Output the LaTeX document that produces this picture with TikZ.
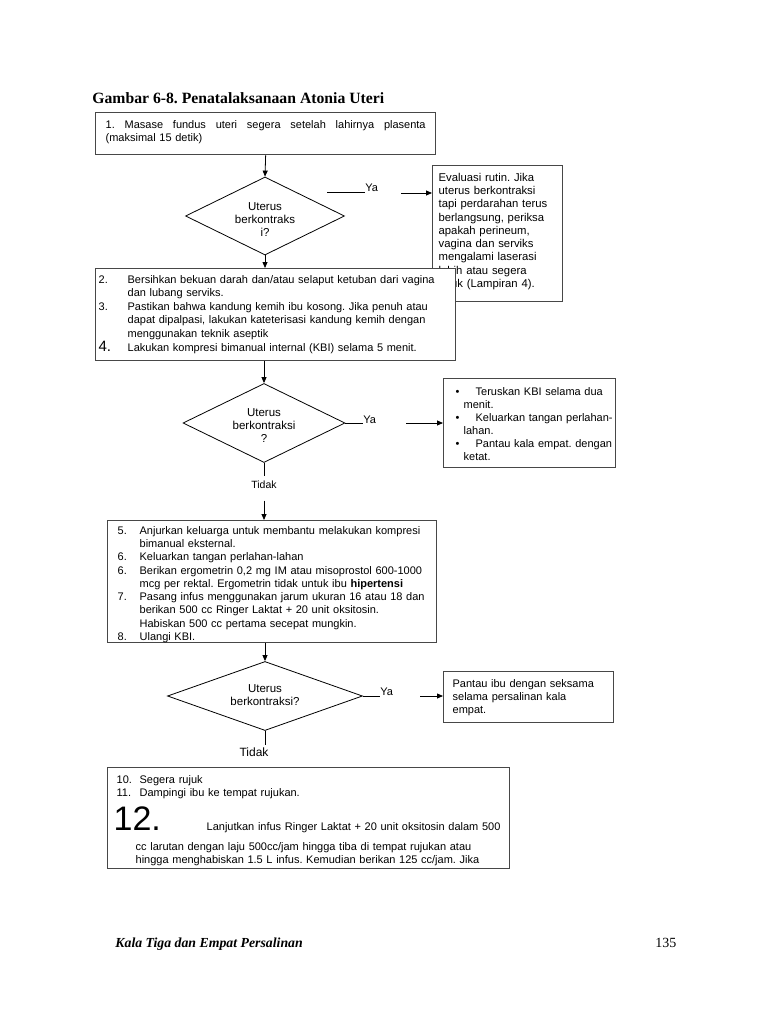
\documentclass[tikz,border=0pt]{standalone}
\usepackage{fontspec}
\setmainfont{Liberation Sans}
\newfontfamily\seriffont{Liberation Serif}
\usetikzlibrary{shapes.geometric}
\usetikzlibrary{arrows.meta}

\newcommand\bodyfont{\fontsize{11}{13.3}\selectfont}
% teks di dalam belah ketupat, digeser ke bawah
\newcommand\isiketupat[2]{\raisebox{-#1}[0pt][0pt]{\begin{tabular}{@{}c@{}}#2\end{tabular}}}
\frenchspacing

\begin{document}
\begin{tikzpicture}[x=1pt, y=-1pt, line width=0.8pt,
    >={Triangle[length=6pt,width=5pt]},
    kotak/.style={draw=black!72, line width=1.3pt, fill=white, anchor=north west,
        inner ysep=0pt, align=left, font=\bodyfont},
    keputusan/.style={draw, diamond, inner sep=0pt,
        font=\fontsize{11.5}{13}\selectfont},
    jawab/.style={font=\bodyfont, inner sep=0pt, anchor=base west}]

    \useasboundingbox (0,0) rectangle (768,1024);

    % judul
    \node[anchor=base west, inner sep=0pt, font=\seriffont\bfseries\fontsize{15.7}{18}\selectfont]
        (judul) at (92,104) {Gambar 6-8. Penatalaksanaan Atonia Uteri};

    % langkah 1
    \node[kotak, inner xsep=10pt, text width=320pt, text height=16pt, text depth=26pt,
        font=\fontsize{11}{13}\selectfont] (b1) at (95,112)
        {\begin{tabular}[t]{@{}l@{}}
        \makebox[320pt][l]{1.\hfill Masase\hfill fundus\hfill uteri\hfill segera\hfill setelah\hfill lahirnya\hfill plasenta}\\
        (maksimal 15 detik)
        \end{tabular}};

    % keputusan 1
    \node[keputusan, minimum width=159pt, minimum height=78pt] (d1) at (265,216)
        {\isiketupat{8.3pt}{Uterus\\berkontraks\\i?}};
    \node[jawab] (ya1) at (365,192) {Ya};
    \coordinate (ya1kiri) at (327,192);
    \coordinate (a1) at (401,193);

    % evaluasi rutin
    \node[kotak, inner xsep=6pt, text width=118pt, text height=15.5pt, text depth=120.5pt,
        font=\fontsize{11.3}{13.3}\selectfont] (ev) at (432,165)
        {\begin{tabular}[t]{@{}l@{}}
        Evaluasi rutin. Jika\\
        uterus berkontraksi\\
        tapi perdarahan terus\\
        berlangsung, periksa\\
        apakah perineum,\\
        vagina dan serviks\\
        mengalami laserasi\\
        lebih atau segera\\
        rujuk (Lampiran 4).
        \end{tabular}};

    % langkah 2 - 4
    \node[kotak, inner xsep=3pt, text width=354pt, text height=14.5pt, text depth=77.5pt,
        font=\fontsize{11}{13.5}\selectfont] (b2) at (95,268)
        {\begin{tabular}[t]{@{}l@{}}
        \makebox[29pt][l]{2.}Bersihkan bekuan darah dan/atau selaput ketuban dari vagina\\
        \hspace*{29pt}dan lubang serviks.\\
        \makebox[29pt][l]{3.}Pastikan bahwa kandung kemih ibu kosong. Jika penuh atau\\
        \hspace*{29pt}dapat dipalpasi, lakukan kateterisasi kandung kemih dengan\\
        \hspace*{29pt}menggunakan teknik aseptik\\
        \makebox[29pt][l]{\fontsize{15}{15}\selectfont 4.}Lakukan kompresi bimanual internal (KBI) selama 5 menit.
        \end{tabular}};

    % keputusan 2
    \node[keputusan, minimum width=162pt, minimum height=79pt] (d2) at (264,423)
        {\isiketupat{7.3pt}{Uterus\\berkontraksi\\?}};
    \node[jawab] (ya2) at (363,423) {Ya};
    \coordinate (a2) at (406,423);

    \node[kotak, inner xsep=12pt, text width=148pt, text height=16.5pt, text depth=72.5pt,
        font=\fontsize{11}{13.1}\selectfont] (tk) at (443,378)
        {\begin{tabular}[t]{@{}l@{}}
        \makebox[20pt][l]{\textbullet}Teruskan KBI selama dua\\
        \hspace*{8pt}menit.\\
        \makebox[20pt][l]{\textbullet}Keluarkan tangan perlahan-\\
        \hspace*{8pt}lahan.\\
        \makebox[20pt][l]{\textbullet}Pantau kala empat. dengan\\
        \hspace*{8pt}ketat.
        \end{tabular}};

    \node[font=\fontsize{10.5}{12}\selectfont, anchor=base, inner xsep=0pt, inner ysep=4pt]
        (tidak1) at (264,488) {Tidak};

    % langkah 5 - 8
    \node[kotak, inner xsep=10pt, text width=309pt, text height=13.5pt, text depth=108.5pt]
        (b3) at (107,520)
        {\begin{tabular}[t]{@{}l@{}}
        \makebox[22pt][l]{5.}Anjurkan keluarga untuk membantu melakukan kompresi\\
        \hspace*{22pt}bimanual eksternal.\\
        \makebox[22pt][l]{6.}Keluarkan tangan perlahan-lahan\\
        \makebox[22pt][l]{6.}Berikan ergometrin 0,2 mg IM atau misoprostol 600-1000\\
        \hspace*{22pt}mcg per rektal. Ergometrin tidak untuk ibu \textbf{hipertensi}\\
        \makebox[22pt][l]{7.}Pasang infus menggunakan jarum ukuran 16 atau 18 dan\\
        \hspace*{22pt}berikan 500 cc Ringer Laktat + 20 unit oksitosin.\\
        \hspace*{22pt}Habiskan 500 cc pertama secepat mungkin.\\
        \makebox[22pt][l]{8.}Ulangi KBI.
        \end{tabular}};

    % keputusan 3
    \node[keputusan, minimum width=195pt, minimum height=67pt] (d3) at (265,696)
        {\isiketupat{3.8pt}{Uterus\\berkontraksi?}};
    \node[jawab] (ya3) at (380,695) {Ya};
    \coordinate (a3) at (420,696);

    \node[kotak, inner xsep=9pt, text width=152pt, text height=15.5pt, text depth=35.5pt]
        (pt) at (443,671)
        {\begin{tabular}[t]{@{}l@{}}
        Pantau ibu dengan seksama\\
        selama persalinan kala\\
        empat.
        \end{tabular}};

    \node[font=\fontsize{12}{14}\selectfont, anchor=base, inner xsep=0pt, inner ysep=2pt]
        (tidak2) at (254,756) {Tidak};

    % langkah 10 - 12
    \node[kotak, inner xsep=9pt, text width=384pt, text height=16pt, text depth=85pt,
        font=\fontsize{11}{13}\selectfont] (b4) at (107,767)
        {\begin{tabular}[t]{@{}l@{}}
        \makebox[23pt][l]{10.}Segera rujuk\\
        \makebox[23pt][l]{11.}Dampingi ibu ke tempat rujukan.\\[6pt]
        \hspace*{-3pt}\makebox[93pt][l]{\fontsize{34}{34}\selectfont 12.}Lanjutkan infus Ringer Laktat + 20 unit oksitosin dalam 500\\[7pt]
        \hspace*{19pt}cc larutan dengan laju 500cc/jam hingga tiba di tempat rujukan atau\\
        \hspace*{19pt}hingga menghabiskan 1.5 L infus. Kemudian berikan 125 cc/jam. Jika
        \end{tabular}};

    % kaki halaman
    \node[anchor=base west, inner sep=0pt, font=\seriffont\bfseries\itshape\fontsize{13.8}{16}\selectfont]
        (kaki) at (115,947) {Kala Tiga dan Empat Persalinan};
    \node[anchor=base west, inner sep=0pt, font=\seriffont\fontsize{14}{16}\selectfont]
        (hal) at (655,947) {135};

    % panah
    \draw[->] (b1.south) -- (d1.north);
    \draw (ya1kiri) -- (ya1.base west);
    \draw[->] (a1) -- (a1 -| ev.west);
    \draw[->] (d1.south) -- (d1.south |- b2.north);

    \draw[->] (d2.north |- b2.south) -- (d2.north);
    \draw (d2.east) -- (d2.east -| ya2.base west);
    \draw[->] (a2) -- (a2 -| tk.west);
    \draw (d2.south) -- (d2.south |- tidak1.north);
    \draw[->, shorten <=8pt] (d2.south |- tidak1.south) -- (d2.south |- b3.north);

    \draw[->] (d3.north |- b3.south) -- (d3.north);
    \draw (d3.east) -- (d3.east -| ya3.base west);
    \draw[->] (a3) -- (a3 -| pt.west);
    \draw (d3.south) -- (d3.south |- tidak2.north);
\end{tikzpicture}
\end{document}
